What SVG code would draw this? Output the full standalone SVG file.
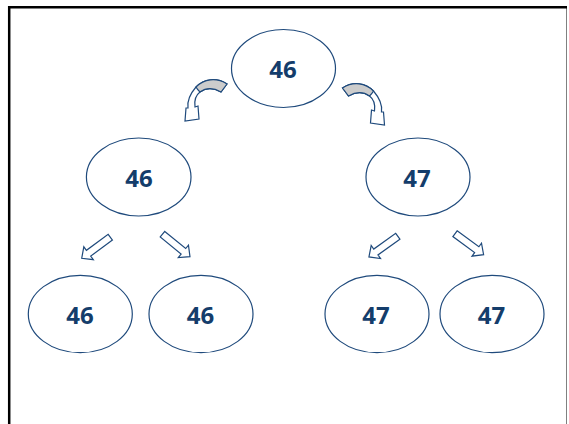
<svg xmlns="http://www.w3.org/2000/svg" width="569" height="424" viewBox="0 0 569 424">
<style>
.node ellipse{fill:#ffffff;stroke:#1f4a7c;stroke-width:1.2}
.node text{font-family:"Open Sans","Liberation Sans",sans-serif;font-weight:700;font-size:24px;fill:#143d6b;text-anchor:middle}
.blk{fill:#ffffff;stroke:#1f4a7c;stroke-width:1.2;stroke-linejoin:miter}
.band{fill:#cccccc;stroke:#1f4a7c;stroke-width:1.2}
</style>
<defs>
<path id="straight" d="M0,-3.6 L27,-3.6 L27,-8 L35.5,0 L27,8 L27,3.6 L0,3.6 Z"/>
<g id="curved">
<path class="blk" d="M227,84 C216,77 204,79 196,87 C190,94 187,101 188,108 L186,108 L185,121 L199,119 L198,106 L195,107 C194,100 196,95 200,92 C207,87 214,88 221,92 Z"/>
<path class="band" d="M227,84 C216,77 204,79 196,87 C197,89 198,90 200,92 C207,87 214,88 221,92 Z"/>
</g>
</defs>
<rect x="0" y="0" width="569" height="424" fill="#ffffff"/>
<line x1="566.5" y1="7" x2="566.5" y2="424" stroke="#808080" stroke-width="1"/>
<path d="M9.2,430 V7.2 H567" fill="none" stroke="#000000" stroke-width="2.5"/>
<g id="connectors">
<use href="#curved"/>
<use href="#curved" transform="translate(569.5,4) scale(-1,1)"/>
<use href="#straight" class="blk" transform="translate(110.3,237.2) rotate(143.6)"/>
<use href="#straight" class="blk" transform="translate(162.5,234.2) rotate(39.3)"/>
<use href="#straight" class="blk" transform="translate(397.8,236.3) rotate(144.4)"/>
<use href="#straight" class="blk" transform="translate(455,233.7) rotate(36.3)"/>
</g>
<g id="n-root" class="node"><ellipse cx="283.5" cy="68.5" rx="52" ry="39"/><text x="283" y="77.5">46</text></g>
<g id="n-l" class="node"><ellipse cx="138.7" cy="177" rx="52.3" ry="39"/><text x="139" y="186.5">46</text></g>
<g id="n-r" class="node"><ellipse cx="418" cy="177" rx="52" ry="39"/><text x="417" y="186.5">47</text></g>
<g id="n-ll" class="node"><ellipse cx="80.3" cy="314" rx="52" ry="38.7"/><text x="80" y="323.5">46</text></g>
<g id="n-lr" class="node"><ellipse cx="201" cy="314" rx="52" ry="38.7"/><text x="200.6" y="323.5">46</text></g>
<g id="n-rl" class="node"><ellipse cx="377" cy="314" rx="52" ry="38.7"/><text x="376" y="323.5">47</text></g>
<g id="n-rr" class="node"><ellipse cx="492" cy="314" rx="52" ry="38.7"/><text x="491.5" y="323.5">47</text></g>
</svg>
